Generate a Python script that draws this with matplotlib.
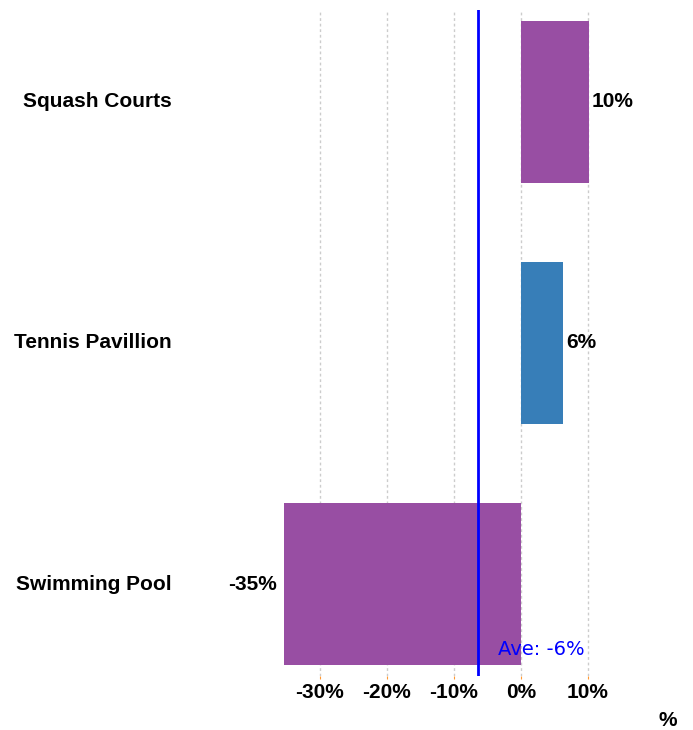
import matplotlib
matplotlib.use("Agg")
import matplotlib.pyplot as plt
from matplotlib.transforms import blended_transform_factory

categories = ["Squash Courts", "Tennis Pavillion", "Swimming Pool"]
values = [10.1, 6.3, -35.3]
colors = ["#984EA3", "#377EB8", "#984EA3"]
value_labels = ["10%", "6%", "-35%"]
average = -6.4
average_label = "Ave: -6%"
xticks = [-30, -20, -10, 0, 10]
xtick_labels = ["-30%", "-20%", "-10%", "0%", "10%"]

W, H = 693, 730
fig = plt.figure(figsize=(W / 100, H / 100), dpi=100)
left, right, top, bottom = 284, 680, 10, 676
ax = fig.add_axes([left / W, 1 - bottom / H, (right - left) / W, (bottom - top) / H])

FS = 15
ypos = list(range(len(categories)))
ax.barh(ypos, values, height=0.672, color=colors, zorder=2)
ax.set_ylim(2.38, -0.38)
ax.set_xlim(-35.3, 23.7)

for s in ax.spines.values():
    s.set_visible(False)

ax.set_xticks(xticks)
ax.set_xticklabels(xtick_labels, fontfamily="Liberation Sans", fontweight="bold", fontsize=FS)
ax.tick_params(axis="x", length=2, color="#FF9933", pad=3)
ax.set_yticks([])
ax.grid(axis="x", linestyle=(0, (2, 2)), color="#cccccc", linewidth=1, zorder=0)

# category labels
tr = blended_transform_factory(fig.transFigure, ax.transData)
for y, c in zip(ypos, categories):
    ax.text(172 / W, y, c, transform=tr, ha="right", va="center",
            fontfamily="Liberation Sans", fontweight="bold", fontsize=FS)

# value labels
for y, v, lab in zip(ypos, values, value_labels):
    if v >= 0:
        ax.text(v + 0.4, y, lab, ha="left", va="center",
                fontfamily="Liberation Sans", fontweight="bold", fontsize=FS)
    else:
        ax.text(v - 1.0, y, lab, ha="right", va="center",
                fontfamily="Liberation Sans", fontweight="bold", fontsize=FS)

ax.axvline(average, color="#0000FF", linewidth=2, zorder=3)
ax.text(-3.4, 2.27, average_label, color="#0000FF", fontsize=14,
        fontfamily="DejaVu Sans", ha="left", va="center", zorder=4)

fig.text(668 / W, 1 - 720 / H, "%", ha="center", va="center",
         fontfamily="Liberation Sans", fontweight="bold", fontsize=FS)

fig.savefig("out.png", dpi=100)
